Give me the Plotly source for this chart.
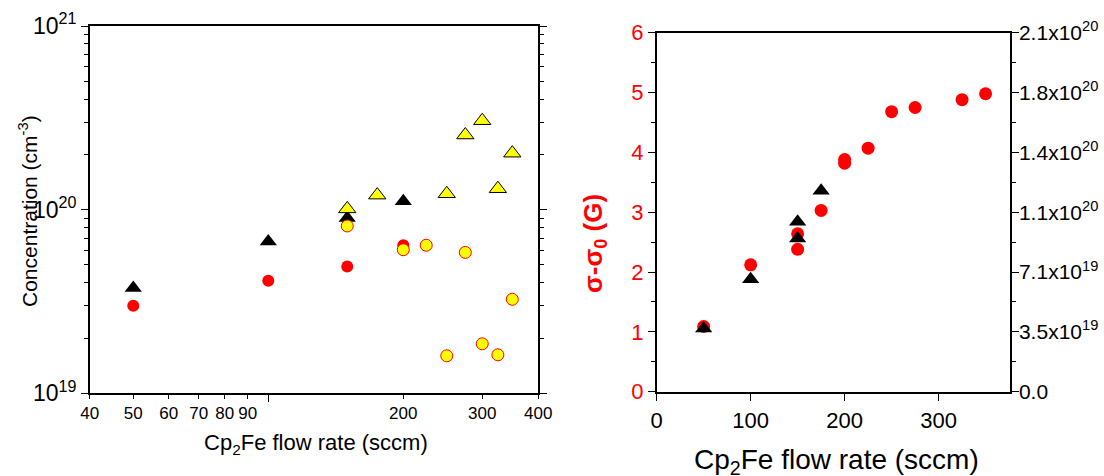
import plotly.graph_objects as go

# ---------------- data ----------------
# Left panel: concentration (cm^-3) vs Cp2Fe flow rate (sccm), log-log
black_tri_x = [50, 100, 150, 200]
black_tri_y = [3.75e19, 6.7e19, 9.0e19, 1.11e20]
red_circ_x = [50, 100, 150, 200]
red_circ_y = [3.0e19, 4.1e19, 4.9e19, 6.4e19]
yellow_tri_x = [150, 175, 250, 275, 300, 325, 350]
yellow_tri_y = [1.01e20, 1.2e20, 1.22e20, 2.55e20, 3.05e20, 1.3e20, 2.03e20]
yellow_circ_x = [150, 200, 225, 250, 275, 300, 325, 350]
yellow_circ_y = [8.15e19, 6.05e19, 6.4e19, 1.6e19, 5.85e19, 1.86e19, 1.62e19, 3.25e19]

# Right panel: sigma - sigma0 (G) and concentration (right axis)
sigma_x = [50, 100, 150, 150, 175, 200, 200, 225, 250, 275, 325, 350]
sigma_y = [1.09, 2.12, 2.64, 2.38, 3.03, 3.88, 3.82, 4.07, 4.68, 4.75, 4.88, 4.98]
conc_x = [50, 100, 150, 150, 175]
conc_y = [3.7e19, 6.58e19, 8.96e19, 9.94e19, 1.176e20]

# tick labels
left_x_ticks = [40, 50, 60, 70, 80, 90, 200, 300, 400]
left_y_ticks = [1e19, 1e20, 1e21]
left_y_text = ["10<sup>19</sup>", "10<sup>20</sup>", "10<sup>21</sup>"]
right_x_ticks = [0, 100, 200, 300]
right_y2_vals = [0, 3.5e19, 7.0e19, 1.05e20, 1.4e20, 1.75e20, 2.1e20]
right_y2_text = ["0.0", "3.5x10<sup>19</sup>", "7.1x10<sup>19</sup>", "1.1x10<sup>20</sup>",
                 "1.4x10<sup>20</sup>", "1.8x10<sup>20</sup>", "2.1x10<sup>20</sup>"]

FONT = "Liberation Sans, Arial, sans-serif"
RED = "#FF0000"
YEL = "#FFFF00"

W, H = 1104, 476


def px_x(p):
    return p / W


def px_y(p):
    return 1 - p / H


fig = go.Figure()

# left panel traces
fig.add_trace(go.Scatter(x=red_circ_x, y=red_circ_y, mode="markers", xaxis="x", yaxis="y",
                         marker=dict(symbol="circle", size=12, color=RED, line=dict(width=0))))
fig.add_trace(go.Scatter(x=black_tri_x, y=black_tri_y, mode="markers", xaxis="x", yaxis="y",
                         marker=dict(symbol="triangle-up", size=15, color="black", line=dict(width=0))))
fig.add_trace(go.Scatter(x=yellow_tri_x, y=yellow_tri_y, mode="markers", xaxis="x", yaxis="y",
                         marker=dict(symbol="triangle-up", size=15, color=YEL,
                                     line=dict(width=1, color="black"))))
fig.add_trace(go.Scatter(x=yellow_circ_x, y=yellow_circ_y, mode="markers", xaxis="x", yaxis="y",
                         marker=dict(symbol="circle", size=12, color=YEL,
                                     line=dict(width=1, color=RED))))

# right panel traces
fig.add_trace(go.Scatter(x=sigma_x, y=sigma_y, mode="markers", xaxis="x2", yaxis="y2",
                         marker=dict(symbol="circle", size=13, color=RED, line=dict(width=0))))
fig.add_trace(go.Scatter(x=conc_x, y=conc_y, mode="markers", xaxis="x2", yaxis="y3",
                         marker=dict(symbol="triangle-up", size=15, color="black", line=dict(width=0))))

axis_common = dict(showgrid=False, zeroline=False, showline=True, linecolor="black",
                   linewidth=1.5, ticks="outside", tickcolor="black", tickwidth=1.2,
                   automargin=False)

fig.update_layout(
    width=W, height=H,
    margin=dict(l=0, r=0, t=0, b=0, pad=0, autoexpand=False),
    paper_bgcolor="white", plot_bgcolor="white",
    showlegend=False,
    font=dict(family=FONT, color="black"),
    xaxis=dict(**axis_common, type="log", range=[1.60206, 2.60206],
               domain=[px_x(89.8), px_x(538.3)], anchor="y", mirror=True,
               tickmode="array", tickvals=left_x_ticks, ticktext=[str(v) for v in left_x_ticks],
               ticklen=4, tickfont=dict(size=17),
               minor=dict(tickmode="array", tickvals=[100], ticklen=7, ticks="outside",
                          tickcolor="black", tickwidth=1.2, showgrid=False)),
    yaxis=dict(**axis_common, type="log", range=[19, 21],
               domain=[px_y(393.3), px_y(26)], anchor="x", mirror="ticks",
               tickmode="array", tickvals=left_y_ticks, ticktext=left_y_text,
               ticklen=7, tickfont=dict(size=23),
               minor=dict(tickmode="array",
                          tickvals=[k * 1e19 for k in range(2, 10)] + [k * 1e20 for k in range(2, 10)],
                          ticklen=4, ticks="outside", tickcolor="black", tickwidth=1.2, showgrid=False)),
    xaxis2=dict(**axis_common, range=[0, 376],
                domain=[px_x(656.7), px_x(1010)], anchor="y2", mirror=True,
                tickmode="array", tickvals=right_x_ticks, ticklen=8, tickfont=dict(size=22)),
    yaxis2=dict(**axis_common, range=[0, 6],
                domain=[px_y(391.7), px_y(32.7)], anchor="x2",
                tickmode="linear", tick0=0, dtick=1, ticklen=7,
                tickfont=dict(size=22, color=RED),
                minor=dict(tickmode="linear", tick0=0, dtick=0.5, ticklen=4, ticks="outside",
                           tickcolor="black", tickwidth=1.2, showgrid=False)),
    yaxis3=dict(**axis_common, range=[0, 2.1e20], overlaying="y2", side="right", anchor="x2",
                tickmode="array", tickvals=right_y2_vals, ticktext=right_y2_text,
                ticklen=7, tickfont=dict(size=21), ticklabelstandoff=-4,
                minor=dict(tickmode="array",
                           tickvals=[1.75e19, 5.25e19, 8.75e19, 1.225e20, 1.575e20, 1.925e20],
                           ticklen=4, ticks="outside", tickcolor="black", tickwidth=1.2, showgrid=False)),
)

annotations = [
    dict(text="Concentration (cm<sup>-3</sup>)", x=px_x(28), y=px_y(211), textangle=-90,
         font=dict(size=21, family=FONT, color="black")),
    dict(text="Cp<sub>2</sub>Fe flow rate (sccm)", x=px_x(316), y=px_y(444),
         font=dict(size=22, family=FONT, color="black")),
    dict(text="Cp<sub>2</sub>Fe flow rate (sccm)", x=px_x(836), y=px_y(461),
         font=dict(size=28, family=FONT, color="black")),
    dict(text="<b>σ-σ<sub>0</sub> (G)</b>", x=px_x(595), y=px_y(244), textangle=-90,
         font=dict(size=26, family=FONT, color=RED)),
]
for a in annotations:
    a.update(xref="paper", yref="paper", xanchor="center", yanchor="middle", showarrow=False)
fig.update_layout(annotations=annotations)

fig.write_html("out.html",
               config={"displayModeBar": False},
               post_script="document.body.style.margin='0';document.body.style.overflow='hidden';")
